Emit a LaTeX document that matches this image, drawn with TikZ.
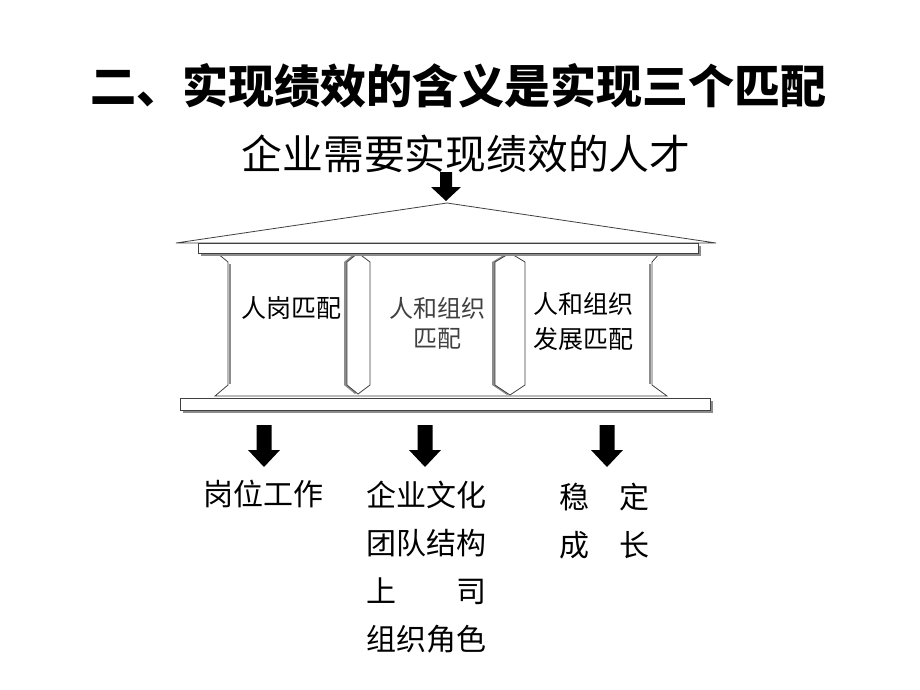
\documentclass[tikz,border=0pt]{standalone}
\usepackage{fontspec}
\newfontfamily\cjk{Noto Sans CJK SC}
\usetikzlibrary{calc}
\tikzset{
  edge/.style={draw=black!75, line width=0.8pt, line join=miter},
  shade/.style={fill=black!45, draw=none},
  part/.style={fill=white, draw=black!75, line width=0.8pt},
  downarrow/.pic={\fill[black] (-7.5,0) -- (7.5,0) -- (7.5,25) -- (16,25) -- (0,42) -- (-16,25) -- (-7.5,25) -- cycle;},
  toparrow/.pic={\fill[black] (-6,0) -- (6,0) -- (6,15) -- (15,15) -- (0,29) -- (-15,15) -- (-6,15) -- cycle;},
  lbl/.style={inner sep=0pt, align=center, text=black}
}
\begin{document}
\begin{tikzpicture}[x=1pt,y=-1pt]
\useasboundingbox (0,0) rectangle (920,690);
\fill[white] (0,0) rectangle (920,690);
% title
\node[lbl, font=\cjk\bfseries\fontsize{46}{50}\selectfont] (title) at (458,86) {二、实现绩效的含义是实现三个匹配};
\node[lbl, font=\cjk\fontsize{40.8}{44}\selectfont] (sub) at (466,154) {企业需要实现绩效的人才};
\pic (a0) at (446,172) {toparrow};
% roof
\draw[part] (176,243) -- (447,203) -- (716,243) -- cycle;
% column panel
\draw[part] (217,253) -- (660,253) -- (652,262) -- (652,385) -- (667,396) -- (215,396) -- (228,385) -- (228,262) -- cycle;
\draw[black!45, line width=1.2pt] (230,264) -- (230,384);
% pillars
\fill[shade] (344,262) -- (355,253) -- (367,262) -- (367,385) -- (355,394) -- (344,385) -- cycle;
\draw[part] (347,262) -- (358,253) -- (370,262) -- (370,385) -- (358,394) -- (347,385) -- cycle;
\fill[shade] (492,262) -- (507,253) -- (522,262) -- (522,385) -- (507,395) -- (492,385) -- cycle;
\draw[part] (495,262) -- (510,253) -- (525,262) -- (525,385) -- (510,395) -- (495,385) -- cycle;
\draw[black!45, line width=1.2pt] (650,264) -- (650,384);
% top strip
\fill[shade] (201,246) rectangle (701,256);
\draw[part] (198,243) rectangle (698,253);
% bottom strip
\fill[shade] (183,401) rectangle (713,413);
\draw[part] (180,398) rectangle (710,410);
% column labels
\node[lbl, font=\cjk\fontsize{25}{30}\selectfont] (c1) at (291,308) {人岗匹配};
\node[lbl, font=\cjk\fontsize{24}{30}\selectfont, text=black!75] (c2) at (437,323) {人和组织\\匹配};
\node[lbl, font=\cjk\fontsize{25}{35}\selectfont] (c3) at (583,322) {人和组织\\发展匹配};
% arrows
\pic (a1) at (264,425) {downarrow};
\pic (a2) at (425,425) {downarrow};
\pic (a3) at (607,425) {downarrow};
% bottom labels
\node[lbl, font=\cjk\fontsize{30}{48}\selectfont, anchor=north] (b1) at (263,480) {岗位工作};
\node[lbl, font=\cjk\fontsize{30}{48}\selectfont, anchor=north] (b2) at (426,481) {企业文化\\团队结构\\上　　司\\组织角色};
\node[lbl, font=\cjk\fontsize{30}{48}\selectfont, anchor=north] (b3) at (604,483) {稳　定\\成　长};
\end{tikzpicture}
\end{document}
